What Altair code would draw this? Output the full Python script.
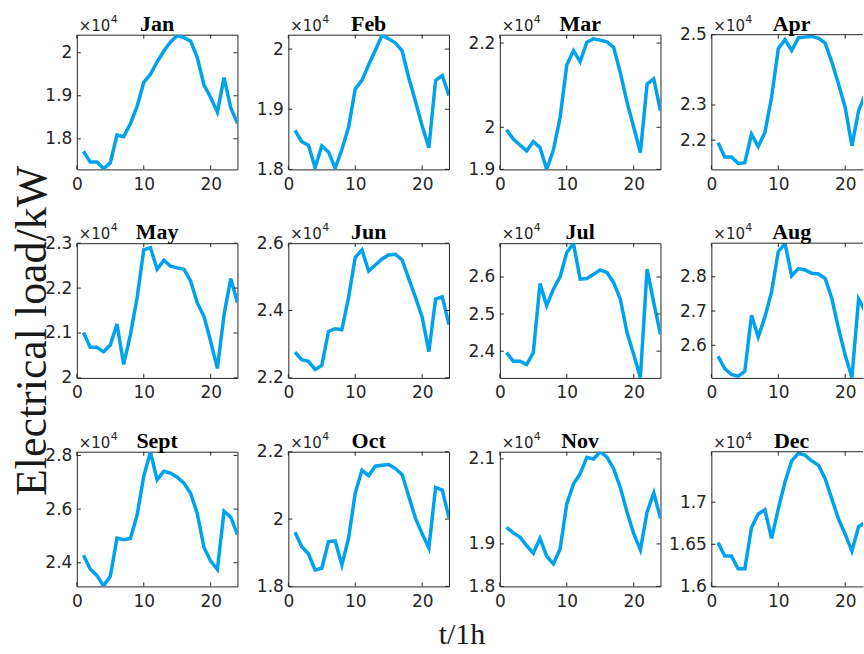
import altair as alt
import pandas as pd

hours = list(range(1, 25))
months = ["Jan", "Feb", "Mar", "Apr", "May", "Jun", "Jul", "Aug", "Sept", "Oct", "Nov", "Dec"]

jan = [17710, 17460, 17460, 17310, 17440, 18090, 18050, 18350, 18750, 19310, 19500, 19790,
       20040, 20250, 20400, 20350, 20270, 19890, 19250, 18960, 18620, 19420, 18720, 18360]
feb = [18650, 18460, 18400, 18030, 18390, 18290, 18020, 18330, 18700, 19340, 19480, 19740,
       19980, 20230, 20170, 20100, 19970, 19520, 19130, 18720, 18360, 19480, 19560, 19230]
mar = [19940, 19720, 19580, 19440, 19660, 19520, 19000, 19460, 20230, 21480, 21820, 21560,
       22020, 22100, 22070, 22030, 21900, 21300, 20600, 20000, 19400, 21030, 21150, 20390]
apr = [21930, 21520, 21520, 21340, 21360, 22170, 21820, 22220, 23220, 24600, 24860, 24550,
       24910, 24930, 24950, 24900, 24760, 24220, 23600, 22930, 21840, 22840, 23310, 23700]
may = [21010, 20680, 20680, 20580, 20730, 21200, 20300, 20960, 21780, 22850, 22900, 22420,
       22620, 22490, 22450, 22420, 22160, 21670, 21370, 20810, 20210, 21410, 22210, 21680]
jun = [22760, 22540, 22490, 22250, 22370, 23380, 23460, 23430, 24390, 25580, 25800, 25170,
       25350, 25530, 25650, 25670, 25500, 24940, 24390, 23800, 22780, 24340, 24410, 23580]
jul = [23960, 23730, 23730, 23640, 23960, 25820, 25230, 25670, 26000, 26660, 26900, 25940,
       25960, 26070, 26190, 26120, 25850, 25400, 24500, 23910, 23290, 26210, 25300, 24450]
aug = [25680, 25320, 25150, 25100, 25240, 26880, 26240, 26830, 27560, 28730, 28970, 28030,
       28240, 28200, 28100, 28080, 27950, 27370, 26490, 25710, 25060, 27350, 26980, 26500]
sep = [24280, 23770, 23530, 23140, 23500, 24920, 24860, 24910, 25770, 27220, 28130, 27090,
       27410, 27340, 27190, 26970, 26590, 25830, 24570, 24060, 23750, 25920, 25700, 25050]
oct_ = [19610, 19180, 18970, 18490, 18540, 19330, 19350, 18640, 19430, 20780, 21450, 21290,
        21570, 21600, 21620, 21500, 21320, 20670, 20020, 19560, 19140, 20940, 20860, 20040]
nov = [19390, 19260, 19160, 18960, 18780, 19130, 18710, 18530, 18880, 19940, 20410, 20650,
       21040, 21000, 21170, 21040, 20770, 20330, 19750, 19240, 18860, 19750, 20200, 19600]
dec = [16520, 16360, 16360, 16210, 16210, 16700, 16860, 16910, 16570, 16920, 17240, 17490,
       17580, 17560, 17490, 17440, 17280, 17040, 16800, 16620, 16420, 16710, 16760, 16800]
series = [jan, feb, mar, apr, may, jun, jul, aug, sep, oct_, nov, dec]

y_domains = [
    [17290, 20420], [18000, 20240], [19000, 22200], [21170, 25000],
    [20000, 23000], [22000, 26000], [23280, 26910], [25050, 28980],
    [23120, 28140], [18000, 22000], [18000, 21170], [16000, 17600],
]
y_ticks = [
    [18000, 19000, 20000], [18000, 19000, 20000], [19000, 20000, 22000], [22000, 23000, 25000],
    [20000, 21000, 22000, 23000], [22000, 24000, 26000], [24000, 25000, 26000], [26000, 27000, 28000],
    [24000, 26000, 28000], [18000, 20000, 22000], [18000, 19000, 21000], [16000, 16500, 17000],
]
x_ticks = [0, 10, 20]

W, H = 161, 135
W_LAST = 152
LINE = "#00A2EE"
INK = "#262626"
SANS = "DejaVu Sans"
SERIF = "Liberation Serif"
TICK = 4


def one(label):
    return alt.Chart(pd.DataFrame({"t": [label]}))


def panel(i):
    col = i % 4
    last = col == 3
    w = W if not last else W_LAST
    xmax = 24 * w / W
    xs = alt.Scale(domain=[0, xmax], nice=False, zero=False)
    ys = alt.Scale(domain=y_domains[i], nice=False, zero=False)
    xa = alt.Axis(values=x_ticks, title=None, grid=False, ticks=False, domain=last,
                  domainColor=INK, labelFont=SANS, labelFontSize=17, labelColor=INK,
                  labelPadding=7, labelFlush=False, labelOverlap=False)
    ya = alt.Axis(values=y_ticks[i], title=None, grid=False, ticks=False, domain=last,
                  domainColor=INK, labelFont=SANS, labelFontSize=17, labelColor=INK,
                  labelPadding=5, labelFlush=False, labelOverlap=False,
                  labelExpr="format(datum.value / 10000, '~g')")
    df = pd.DataFrame({"hour": hours, "load": series[i]})

    line = alt.Chart(df).mark_line(color=LINE, strokeWidth=3.5, clip=True).encode(
        x=alt.X("hour:Q", scale=xs, axis=xa),
        y=alt.Y("load:Q", scale=ys, axis=ya),
    )
    layers = [line]

    yt = alt.Chart(pd.DataFrame({"load": y_ticks[i]}))
    xt = alt.Chart(pd.DataFrame({"hour": x_ticks}))
    layers.append(yt.mark_rule(color=INK, strokeWidth=1).encode(
        y=alt.Y("load:Q", scale=ys, axis=ya), x=alt.value(0), x2=alt.value(TICK)))
    if not last:
        layers.append(yt.mark_rule(color=INK, strokeWidth=1).encode(
            y=alt.Y("load:Q", scale=ys, axis=ya), x=alt.value(w - TICK), x2=alt.value(w)))
    layers.append(xt.mark_rule(color=INK, strokeWidth=1).encode(
        x=alt.X("hour:Q", scale=xs, axis=xa), y=alt.value(H - TICK), y2=alt.value(H)))
    layers.append(xt.mark_rule(color=INK, strokeWidth=1).encode(
        x=alt.X("hour:Q", scale=xs, axis=xa), y=alt.value(0), y2=alt.value(TICK)))
    if last:
        layers.append(one("top").mark_rule(color=INK, strokeWidth=1).encode(
            x=alt.value(0), x2=alt.value(w), y=alt.value(0)))

    # month name and x10^4 multiplier above the box
    layers.append(one("m").mark_text(text=months[i], font=SERIF, fontSize=22, fontWeight="bold",
                                      color="black", align="center", baseline="alphabetic").encode(
        x=alt.value(W / 2), y=alt.value(-4)))
    layers.append(one("x").mark_text(text="×10", font=SANS, fontSize=15, color=INK,
                                      align="left", baseline="alphabetic").encode(
        x=alt.value(2), y=alt.value(-4)))
    layers.append(one("e").mark_text(text="4", font=SANS, fontSize=11, color=INK,
                                      align="left", baseline="alphabetic").encode(
        x=alt.value(34), y=alt.value(-12)))

    if i == 0:
        # layout anchor: keeps the page origin 76px left / 33px above the first panel
        layers.append(one("anchor").mark_rule(strokeOpacity=0, strokeWidth=0).encode(
            x=alt.value(-76), x2=alt.value(-75), y=alt.value(-33)))
    if i == 4:
        layers.append(one("yl").mark_text(text="Electrical load/kW", font=SERIF, fontSize=44,
                                           color="#1a1a1a", angle=270, align="center",
                                           baseline="middle").encode(
            x=alt.value(-44), y=alt.value(88)))
    if i == 9:
        layers.append(one("xl").mark_text(text="t/1h", font=SERIF, fontSize=30,
                                           color="#1a1a1a", align="center",
                                           baseline="middle").encode(
            x=alt.value(174), y=alt.value(184)))

    ch = alt.layer(*layers).properties(width=w, height=H)
    if last:
        ch = ch.properties(view=alt.ViewBackground(stroke="transparent"))
    return ch


panels = [panel(i) for i in range(12)]
chart = alt.concat(*panels, columns=4, spacing={"row": 74, "column": 51}, bounds="flush").properties(
    padding={"left": 0, "top": 0, "right": 0, "bottom": 0},
    background="white",
).configure_view(stroke=INK, strokeWidth=1)

chart.save("out.html", embed_options={"renderer": "svg", "actions": False})
